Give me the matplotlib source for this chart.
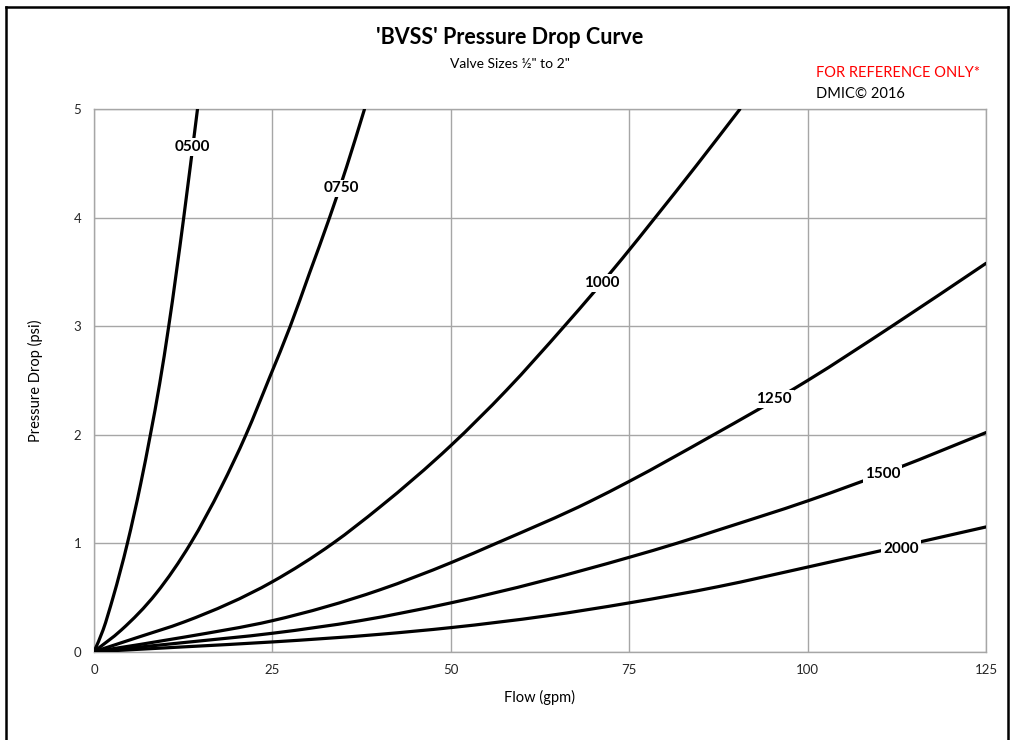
import matplotlib
matplotlib.use("Agg")
import matplotlib.pyplot as plt
from matplotlib.lines import Line2D
from matplotlib.path import Path
from matplotlib.patches import PathPatch

plt.rcParams['font.family'] = ['Lato', 'DejaVu Sans']

# ---- data ----
x_0500 = [0, 1.27, 2.67, 4.68, 6.55, 7.9, 9.2, 10.47, 12.57, 14.5]
y_0500 = [0, 0.2, 0.5, 1.0, 1.55, 2.0, 2.47, 3.0, 4.0, 5.0]

x_0750 = [0, 3.83, 8.74, 13.55, 17.85, 21.3, 24.65, 27.5, 30.2, 33.0, 35.4, 37.9]
y_0750 = [0, 0.2, 0.54, 1.0, 1.52, 2.0, 2.535, 3.0, 3.49, 4.0, 4.47, 5.0]

x_1000 = [0, 5.7, 12.7, 25, 33.5, 40, 50, 57.8, 65.9, 74.1, 78.5, 84.4, 90.5]
y_1000 = [0, 0.123, 0.276, 0.645, 1.0, 1.33, 1.9, 2.41, 3.0, 3.63, 3.99, 4.48, 5.0]

x_1250 = [0, 12.7, 25, 40, 50, 56.4, 69.5, 75, 86.3, 100, 111.8, 125]
y_1250 = [0, 0.135, 0.286, 0.569, 0.82, 1.0, 1.385, 1.57, 1.98, 2.5, 3.0, 3.58]

x_1500 = [0, 12.7, 25, 37.3, 50, 75, 81.7, 87.4, 100, 112.5, 125]
y_1500 = [0, 0.085, 0.17, 0.286, 0.45, 0.87, 1.0, 1.12, 1.39, 1.69, 2.02]

x_2000 = [0, 12.7, 25, 40, 50, 63.4, 75, 87.5, 100, 125]
y_2000 = [0, 0.045, 0.09, 0.16, 0.222, 0.33, 0.45, 0.6, 0.78, 1.15]

series_names = ['0500', '0750', '1000', '1250', '1500', '2000']
label_x = [13.8, 34.6, 71.1, 95.3, 110.5, 113.1]
label_y = [4.65, 4.27, 3.40, 2.33, 1.64, 0.95]

x_ticks = [0, 25, 50, 75, 100, 125]
y_ticks = [0, 1, 2, 3, 4, 5]


def smooth_path(xv, yv):
    """Smoothed line drawn as cubic Bezier segments passing through every read point."""
    n = len(xv)
    h = [xv[i + 1] - xv[i] for i in range(n - 1)]
    d = [(yv[i + 1] - yv[i]) / h[i] for i in range(n - 1)]
    m = [d[0]]
    for i in range(1, n - 1):
        m.append((h[i - 1] * d[i] + h[i] * d[i - 1]) / (h[i - 1] + h[i]))
    m.append(d[-1])
    verts = [(xv[0], yv[0])]
    codes = [Path.MOVETO]
    for i in range(n - 1):
        t = h[i] / 3.0
        verts += [(xv[i] + t, yv[i] + m[i] * t),
                  (xv[i + 1] - t, yv[i + 1] - m[i + 1] * t),
                  (xv[i + 1], yv[i + 1])]
        codes += [Path.CURVE4] * 3
    return Path(verts, codes)


# ---- figure ----
W, H = 1012, 740
fig = plt.figure(figsize=(W / 100, H / 100), dpi=100)
ax = fig.add_axes([94 / W, (H - 651.7) / H, (986 - 94) / W, (651.7 - 109.3) / H])

xs = [x_0500, x_0750, x_1000, x_1250, x_1500, x_2000]
ys = [y_0500, y_0750, y_1000, y_1250, y_1500, y_2000]
for xv, yv in zip(xs, ys):
    patch = PathPatch(smooth_path(xv, yv), facecolor='none', edgecolor='black',
                      lw=2.3, capstyle='round', joinstyle='round', zorder=3,
                      transform=ax.transData)
    ax.add_patch(patch)

for name, lx, ly in zip(series_names, label_x, label_y):
    ax.text(lx, ly, name, ha='center', va='center', fontsize=11, fontweight='bold',
            color='black', zorder=4,
            bbox=dict(boxstyle='square,pad=0.12', fc='white', ec='none'))

ax.set_xlim(0, 125)
ax.set_ylim(0, 5)
ax.set_xticks(x_ticks)
ax.set_yticks(y_ticks)
ax.grid(True, color='#a6a6a6', lw=1.0, zorder=0)
ax.set_axisbelow(True)
for s in ax.spines.values():
    s.set_color('#a6a6a6')
    s.set_linewidth(1.0)
ax.tick_params(length=0, labelsize=9.5, labelcolor='#262626', pad=9)
ax.set_xlabel('Flow (gpm)', fontsize=10.5, labelpad=10)
ax.set_ylabel('Pressure Drop (psi)', fontsize=10.5, labelpad=22)

# ---- titles and notes ----
fig.text(510 / W, 1 - 38 / H, "'BVSS' Pressure Drop Curve", ha='center', va='center',
         fontsize=15.5, fontweight='bold')
fig.text(510 / W, 1 - 64 / H, 'Valve Sizes ½" to 2"', ha='center', va='center', fontsize=10)
fig.text(816 / W, 1 - 73 / H, 'FOR REFERENCE ONLY*', ha='left', va='center',
         fontsize=10.5, color='#ff0000')
fig.text(816 / W, 1 - 94 / H, 'DMIC© 2016', ha='left', va='center', fontsize=10.5)

# ---- outer frame ----
fig.add_artist(Line2D([6 / W, 6 / W], [0, 1 - 7 / H], transform=fig.transFigure, color='black', lw=1.8))
fig.add_artist(Line2D([6 / W, 1008 / W], [1 - 7 / H, 1 - 7 / H], transform=fig.transFigure, color='black', lw=1.8))
fig.add_artist(Line2D([1008 / W, 1008 / W], [0, 1 - 7 / H], transform=fig.transFigure, color='black', lw=1.8))

fig.savefig('out.png', dpi=100, facecolor='white')
